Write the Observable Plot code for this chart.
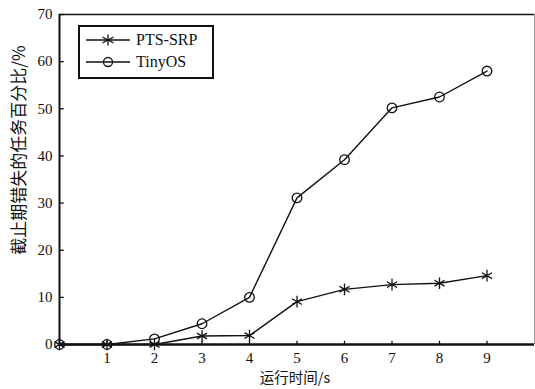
<!DOCTYPE html>
<html><head><meta charset="utf-8">
<script src="https://cdn.jsdelivr.net/npm/d3@7"></script>
<script src="https://cdn.jsdelivr.net/npm/@observablehq/plot@0.6"></script>
<style>
body{margin:0;background:#fff;overflow:hidden;}
#wrap{position:relative;width:535px;height:389px;}
#chart svg{display:block;}
#legend{position:absolute;left:78px;top:25px;width:132px;height:50px;border:2px solid #111;background:#fff;font-family:"Liberation Serif","DejaVu Serif",serif;font-size:16px;color:#111;}
#legend .row{position:absolute;left:0;height:20px;display:flex;align-items:center;}
#legend svg{margin-left:6px;margin-right:6px;}
#ytitle{position:absolute;left:17px;top:150px;transform:translate(-50%,-50%) rotate(-90deg);white-space:nowrap;font-family:"Noto Sans CJK SC",sans-serif;font-size:17px;color:#111;line-height:1;}
#xtitle{position:absolute;left:295px;top:377px;transform:translate(-50%,-50%);white-space:nowrap;font-family:"Noto Sans CJK SC",sans-serif;font-size:14.5px;color:#111;line-height:1;}
</style></head>
<body><div id="wrap"><div id="chart"></div>
<div id="legend">
 <div class="row" style="top:3px"><svg width="44" height="14"><line x1="0" y1="7" x2="44" y2="7" stroke="#111" stroke-width="1.3"/><g stroke="#111" stroke-width="1.3"><line x1="22" y1="1.5" x2="22" y2="12.5"/><line x1="16.5" y1="4" x2="27.5" y2="10"/><line x1="16.5" y1="10" x2="27.5" y2="4"/></g></svg><span>PTS-SRP</span></div>
 <div class="row" style="top:25px"><svg width="44" height="14"><line x1="0" y1="7" x2="44" y2="7" stroke="#111" stroke-width="1.3"/><circle cx="22" cy="7" r="4.5" fill="none" stroke="#111" stroke-width="1.3"/></svg><span>TinyOS</span></div>
</div>
<div id="ytitle"></div>
<div id="xtitle"></div>
</div>
<script>
const times = [0,1,2,3,4,5,6,7,8,9];
const ptsSrp = [0,0,0,1.8,1.9,9.1,11.7,12.7,13.0,14.6];
const tinyOS = [0,0,1.2,4.4,10.0,31.1,39.2,50.2,52.5,58.0];
const xTicks = [1,2,3,4,5,6,7,8,9];
const yTicks = [0,10,20,30,40,50,60,70];
const seriesNames = ["PTS-SRP","TinyOS"];
const xLabel = "运行时间/s";
const yLabel = "截止期错失的任务百分比/%";
document.getElementById("xtitle").textContent = xLabel;
document.getElementById("ytitle").textContent = yLabel;

const data = [];
times.forEach((t,i)=>{
  data.push({t, v: ptsSrp[i], s: seriesNames[0]});
  data.push({t, v: tinyOS[i], s: seriesNames[1]});
});
const ink = "#111";
const chart = Plot.plot({
  width: 535, height: 389,
  marginLeft: 59, marginTop: 14, marginRight: 1, marginBottom: 45,
  style: {fontFamily: '"Liberation Serif","DejaVu Serif",serif', fontSize: "15px", color: ink, background: "#fff"},
  x: {domain: [0,10]},
  y: {domain: [0,70]},
  marks: [
    Plot.ruleY([70], {stroke: ink, strokeWidth: 1.5}),
    Plot.ruleX([10], {stroke: "#999", strokeWidth: 1}),
    Plot.ruleX([0], {stroke: ink, strokeWidth: 2}),
    Plot.ruleY(yTicks, {x1: 0, x2: 0.1, stroke: ink, strokeWidth: 1.3}),
    Plot.ruleX(xTicks, {y1: 0, y2: 0.7, stroke: ink, strokeWidth: 1.3}),
    Plot.line(data, {x: "t", y: "v", z: "s", stroke: ink, strokeWidth: 1.4}),
    Plot.dot(data.filter(d=>d.s===seriesNames[0]), {x: "t", y: "v", symbol: "asterisk", r: 5.5, stroke: ink, strokeWidth: 1.3}),
    Plot.dot(data.filter(d=>d.s===seriesNames[1]), {x: "t", y: "v", symbol: "circle", r: 4.8, stroke: ink, fill: "none", strokeWidth: 1.3}),
    Plot.ruleY([0], {stroke: ink, strokeWidth: 2.5}),
    Plot.axisX({ticks: xTicks, tickSize: 0, tickPadding: 8, label: null, fontSize: 15}),
    Plot.axisY({ticks: yTicks, tickSize: 0, tickPadding: 7, label: null, fontSize: 15})
  ]
});
document.getElementById("chart").appendChild(chart);
</script>
</body></html>
